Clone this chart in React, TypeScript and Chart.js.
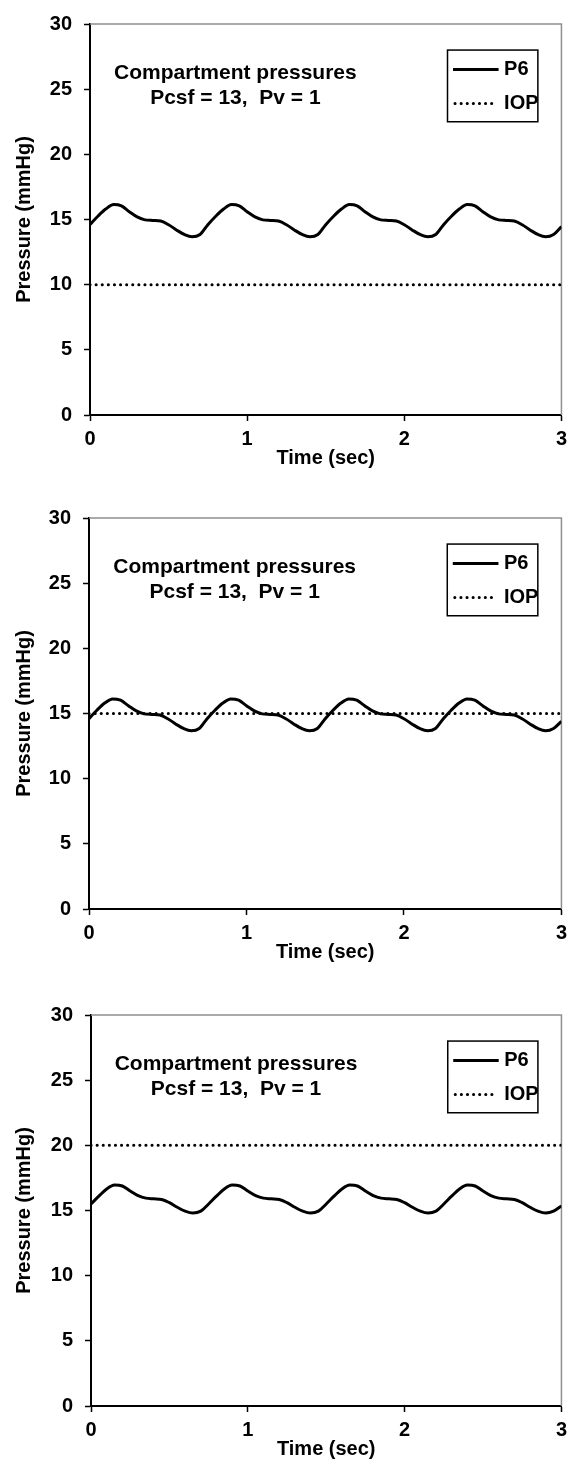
import React, { useEffect, useRef } from "react";
import { Chart, registerables } from "chart.js";

Chart.register(...registerables);

// ---------- data ----------
const timeSec = [
  0, 0.05, 0.1, 0.15, 0.2, 0.25, 0.3, 0.35, 0.4, 0.45, 0.5, 0.55, 0.6, 0.65, 0.7,
  0.75, 0.8, 0.85, 0.9, 0.95, 1, 1.05, 1.1, 1.15, 1.2, 1.25, 1.3, 1.35, 1.4, 1.45,
  1.5, 1.55, 1.6, 1.65, 1.7, 1.75, 1.8, 1.85, 1.9, 1.95, 2, 2.05, 2.1, 2.15, 2.2,
  2.25, 2.3, 2.35, 2.4, 2.45, 2.5, 2.55, 2.6, 2.65, 2.7, 2.75, 2.8, 2.85, 2.9, 2.95,
  3,
];

const p6Panel1 = [
  14.62, 15.25, 15.8, 16.15, 16.05, 15.6, 15.2, 14.97, 14.93, 14.88, 14.6, 14.2, 13.85, 13.67, 13.85,
  14.6, 15.25, 15.8, 16.15, 16.05, 15.6, 15.2, 14.97, 14.93, 14.88, 14.6, 14.2, 13.85, 13.67, 13.85,
  14.6, 15.25, 15.8, 16.15, 16.05, 15.6, 15.2, 14.97, 14.93, 14.88, 14.6, 14.2, 13.85, 13.67, 13.85,
  14.6, 15.25, 15.8, 16.15, 16.05, 15.6, 15.2, 14.97, 14.93, 14.88, 14.6, 14.2, 13.85, 13.67, 13.85,
  14.45,
];

const p6Panel2 = [
  14.6, 15.25, 15.8, 16.12, 16.02, 15.6, 15.2, 14.97, 14.93, 14.88, 14.6, 14.2, 13.85, 13.67, 13.85,
  14.6, 15.25, 15.8, 16.12, 16.02, 15.6, 15.2, 14.97, 14.93, 14.88, 14.6, 14.2, 13.85, 13.67, 13.85,
  14.6, 15.25, 15.8, 16.12, 16.02, 15.6, 15.2, 14.97, 14.93, 14.88, 14.6, 14.2, 13.85, 13.67, 13.85,
  14.6, 15.25, 15.8, 16.12, 16.02, 15.6, 15.2, 14.97, 14.93, 14.88, 14.6, 14.2, 13.85, 13.67, 13.85,
  14.4,
];

const p6Panel3 = [
  15.5, 16.1, 16.65, 16.95, 16.88, 16.5, 16.15, 15.95, 15.9, 15.85, 15.6, 15.25, 14.95, 14.8, 14.95,
  15.5, 16.1, 16.65, 16.95, 16.88, 16.5, 16.15, 15.95, 15.9, 15.85, 15.6, 15.25, 14.95, 14.8, 14.95,
  15.5, 16.1, 16.65, 16.95, 16.88, 16.5, 16.15, 15.95, 15.9, 15.85, 15.6, 15.25, 14.95, 14.8, 14.95,
  15.5, 16.1, 16.65, 16.95, 16.88, 16.5, 16.15, 15.95, 15.9, 15.85, 15.6, 15.25, 14.95, 14.8, 14.95,
  15.35,
];

const iopTime = [0, 3];
const iopPanel1 = [10, 10];
const iopPanel2 = [15, 15];
const iopPanel3 = [20, 20];

const xTickValues = [0, 1, 2, 3];
const yTickValues = [0, 5, 10, 15, 20, 25, 30];

const seriesLabels = ["P6", "IOP"];
const annotationLines = ["Compartment pressures", "Pcsf = 13,  Pv = 1"];
const xTitle = "Time (sec)";
const yTitle = "Pressure (mmHg)";

// ---------- styling ----------
const FONT_FAMILY = "'Liberation Sans', Arial, Helvetica, sans-serif";
const tickFont = { family: FONT_FAMILY, size: 20, weight: "bold" as const };
const noteFont = "bold 21px " + FONT_FAMILY;
const legendFont = "bold 20px " + FONT_FAMILY;
const DOT_PATTERN = [0.1, 6];

const framePlugin = {
  id: "grayFrame",
  beforeDatasetsDraw(chart: any) {
    const { ctx, chartArea } = chart;
    ctx.save();
    ctx.strokeStyle = "#8f8f8f";
    ctx.lineWidth = 1.5;
    ctx.beginPath();
    ctx.moveTo(chartArea.left, chartArea.top);
    ctx.lineTo(chartArea.right, chartArea.top);
    ctx.lineTo(chartArea.right, chartArea.bottom);
    ctx.stroke();
    ctx.restore();
  },
};

const notePlugin = {
  id: "noteAndLegend",
  afterDatasetsDraw(chart: any) {
    const { ctx } = chart;
    const xs = chart.scales.x;
    const ys = chart.scales.y;
    ctx.save();
    // annotation text
    ctx.fillStyle = "#000";
    ctx.font = noteFont;
    ctx.textAlign = "center";
    ctx.textBaseline = "middle";
    const cx = xs.getPixelForValue(0.925);
    ctx.fillText(annotationLines[0], cx, ys.getPixelForValue(26.2));
    ctx.fillText(annotationLines[1], cx, ys.getPixelForValue(24.3));

    // legend box
    const bl = xs.getPixelForValue(2.275);
    const br = xs.getPixelForValue(2.85);
    const bt = ys.getPixelForValue(28.0);
    const bb = ys.getPixelForValue(22.5);
    ctx.fillStyle = "#fff";
    ctx.fillRect(bl, bt, br - bl, bb - bt);
    ctx.strokeStyle = "#000";
    ctx.lineWidth = 1.5;
    ctx.strokeRect(bl, bt, br - bl, bb - bt);

    const lx0 = xs.getPixelForValue(2.31);
    const lx1 = xs.getPixelForValue(2.6);
    const tx = xs.getPixelForValue(2.635);
    const r1 = ys.getPixelForValue(26.5);
    const r2 = ys.getPixelForValue(23.9);

    ctx.strokeStyle = "#000";
    ctx.lineWidth = 3;
    ctx.setLineDash([]);
    ctx.beginPath();
    ctx.moveTo(lx0, r1);
    ctx.lineTo(lx1, r1);
    ctx.stroke();

    ctx.lineWidth = 3;
    ctx.lineCap = "round";
    ctx.setLineDash(DOT_PATTERN);
    ctx.beginPath();
    ctx.moveTo(lx0 + 2, r2);
    ctx.lineTo(lx1 - 3, r2);
    ctx.stroke();
    ctx.setLineDash([]);

    ctx.fillStyle = "#000";
    ctx.font = legendFont;
    ctx.textAlign = "left";
    ctx.textBaseline = "middle";
    ctx.fillText(seriesLabels[0], tx, r1);
    ctx.fillText(seriesLabels[1], tx, r2);
    ctx.restore();
  },
};

type PanelProps = {
  top: number;
  height: number;
  axisLeft: number;
  p6: number[];
  iop: number[];
};

function Panel({ top, height, axisLeft, p6, iop }: PanelProps) {
  const ref = useRef<HTMLCanvasElement>(null);

  useEffect(() => {
    if (!ref.current) return;
    const plotTop = 15;
    const plotH = 400;
    const xAxisH = 55;
    const chart = new Chart(ref.current, {
      type: "line",
      data: {
        datasets: [
          {
            label: seriesLabels[0],
            data: timeSec.map((t, i) => ({ x: t, y: p6[i] })),
            borderColor: "#000",
            backgroundColor: "#000",
            borderWidth: 3,
            pointRadius: 0,
            fill: false,
            cubicInterpolationMode: "monotone",
          },
          {
            label: seriesLabels[1],
            data: iopTime.map((t, i) => ({ x: t, y: iop[i] })),
            borderColor: "#000",
            backgroundColor: "#000",
            borderWidth: 3,
            borderDash: DOT_PATTERN,
            borderCapStyle: "round",
            pointRadius: 0,
            fill: false,
          },
        ],
      },
      options: {
        animation: false,
        responsive: false,
        maintainAspectRatio: false,
        devicePixelRatio: 1,
        layout: {
          padding: { top: plotTop, left: 0, right: 9, bottom: height - plotTop - plotH - xAxisH },
        },
        plugins: {
          legend: { display: false },
          tooltip: { enabled: false },
        },
        scales: {
          x: {
            type: "linear",
            min: 0,
            max: 3,
            afterBuildTicks: (s: any) => {
              s.ticks = xTickValues.map((v) => ({ value: v }));
            },
            afterFit: (s: any) => {
              s.height = xAxisH;
            },
            grid: {
              drawOnChartArea: false,
              drawTicks: true,
              tickLength: 6,
              tickColor: "#000",
              tickWidth: 1.5,
              color: "#000",
            },
            border: { color: "#000", width: 2 },
            ticks: { color: "#000", font: tickFont, padding: 6, maxRotation: 0 },
            title: {
              display: true,
              text: xTitle,
              color: "#000",
              font: tickFont,
              padding: { top: 0, bottom: 0 },
            },
          },
          y: {
            type: "linear",
            min: 0,
            max: 30,
            afterBuildTicks: (s: any) => {
              s.ticks = yTickValues.map((v) => ({ value: v }));
            },
            afterFit: (s: any) => {
              s.width = axisLeft;
            },
            grid: {
              drawOnChartArea: false,
              drawTicks: true,
              tickLength: 6,
              tickColor: "#000",
              tickWidth: 1.5,
              color: "#000",
            },
            border: { color: "#000", width: 2 },
            ticks: { color: "#000", font: tickFont, padding: 12 },
            title: {
              display: true,
              text: yTitle,
              color: "#000",
              font: tickFont,
              padding: { top: 12, bottom: 0 },
            },
          },
        },
      } as any,
      plugins: [framePlugin, notePlugin],
    });
    return () => chart.destroy();
  }, [top, height, axisLeft, p6, iop]);

  return (
    <canvas
      ref={ref}
      width={573}
      height={height}
      style={{ position: "absolute", left: 0, top, width: 573, height, display: "block" }}
    />
  );
}

export default function App() {
  return (
    <div
      style={{
        position: "absolute",
        left: 0,
        top: 0,
        width: 573,
        height: 1465,
        background: "#fff",
        overflow: "hidden",
      }}
    >
      <Panel top={0} height={480} axisLeft={90} p6={p6Panel1} iop={iopPanel1} />
      <Panel top={494} height={480} axisLeft={89} p6={p6Panel2} iop={iopPanel2} />
      <Panel top={991} height={474} axisLeft={91} p6={p6Panel3} iop={iopPanel3} />
    </div>
  );
}
